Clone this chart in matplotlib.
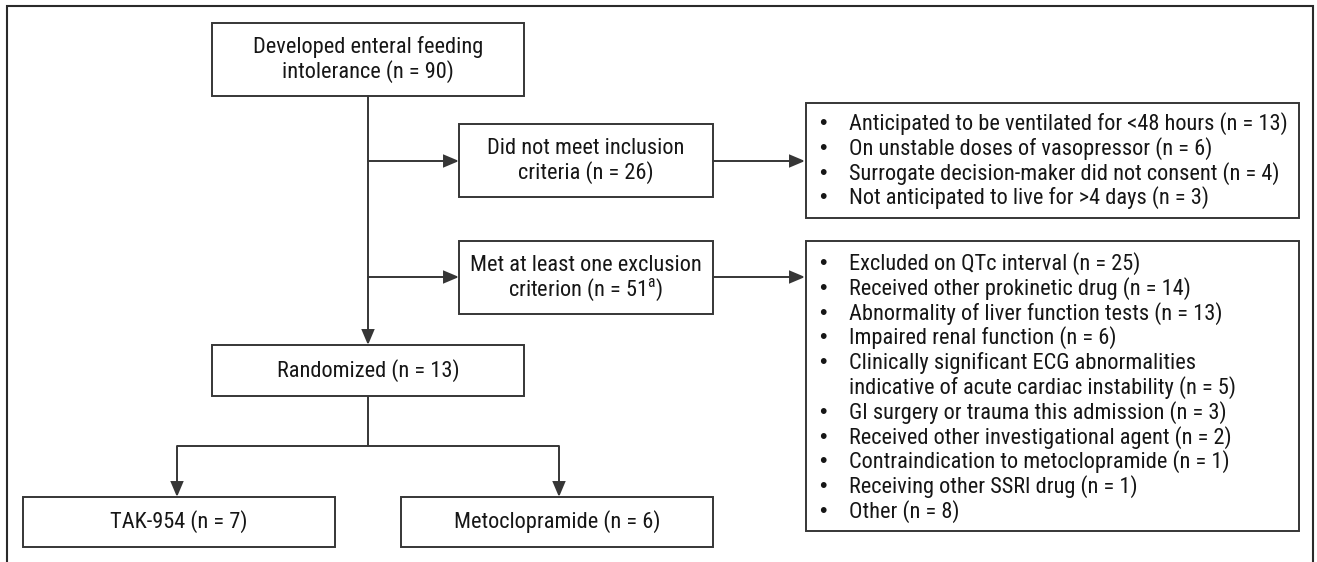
import matplotlib
matplotlib.use("Agg")
import matplotlib.pyplot as plt
from matplotlib.patches import Rectangle, FancyArrowPatch

FONT = ['Roboto Condensed', 'Archivo Narrow', 'Liberation Sans', 'DejaVu Sans']
plt.rcParams['font.family'] = FONT
plt.rcParams['mathtext.fontset'] = 'custom'
plt.rcParams['mathtext.rm'] = 'Roboto Condensed'

# ---- data ----
screened_n = 90
not_included_n = 26
excluded_n = 51
randomized_n = 13
arm_names = ["TAK-954", "Metoclopramide"]
arm_n = [7, 6]

inclusion_reasons = [
    "Anticipated to be ventilated for <48 hours",
    "On unstable doses of vasopressor",
    "Surrogate decision-maker did not consent",
    "Not anticipated to live for >4 days",
]
inclusion_counts = [13, 6, 4, 3]

exclusion_reasons = [
    "Excluded on QTc interval",
    "Received other prokinetic drug",
    "Abnormality of liver function tests",
    "Impaired renal function",
    "Clinically significant ECG abnormalities\nindicative of acute cardiac instability",
    "GI surgery or trauma this admission",
    "Received other investigational agent",
    "Contraindication to metoclopramide",
    "Receiving other SSRI drug",
    "Other",
]
exclusion_counts = [25, 14, 13, 6, 5, 3, 2, 1, 1, 8]

# ---- layout ----
W, H = 1317, 562
fig = plt.figure(figsize=(W / 100, H / 100), dpi=100)
ax = fig.add_axes([0, 0, 1, 1])
ax.set_xlim(0, W)
ax.set_ylim(H, 0)
ax.axis('off')

LC = '#363636'
TC = '#161616'
FS = 16.1
LW = 1.4
LINE = 24.8

# outer frame (open at bottom)
ax.plot([7, 7, 1313, 1313], [H, 6, 6, H], color='#2a2a2a', lw=1.5, solid_joinstyle='miter')


def box(x0, y0, x1, y1):
    ax.add_patch(Rectangle((x0, y0), x1 - x0, y1 - y0, fill=False, ec=LC, lw=LW))


def ctext(cx, cy, lines):
    n = len(lines)
    for i, s in enumerate(lines):
        y = cy + (i - (n - 1) / 2) * LINE
        ax.text(cx, y, s, ha='center', va='center', fontsize=FS, color=TC)


def arrow(x0, y0, x1, y1):
    ax.add_patch(FancyArrowPatch((x0, y0), (x1, y1),
                                 arrowstyle='-|>,head_length=9,head_width=3.8',
                                 mutation_scale=1, shrinkA=0, shrinkB=0,
                                 color=LC, lw=LW, joinstyle='miter'))


def line(xs, ys):
    ax.plot(xs, ys, color=LC, lw=LW, solid_capstyle='butt')


# main boxes
box(212, 23, 524, 96)
ctext(368, 59.5, ["Developed enteral feeding", f"intolerance (n = {screened_n})"])

box(459, 124, 713, 197)
ctext(586, 160.5, ["Did not meet inclusion", f"criteria (n = {not_included_n})"])

box(459, 241, 713, 314)
ctext(586, 277.5, ["Met at least one exclusion",
                   f"criterion (n = {excluded_n}$^{{\\mathrm{{a}}}}$)"])

box(212, 345, 524, 396)
ctext(368, 370.5, [f"Randomized (n = {randomized_n})"])

box(23, 497, 335, 547)
ctext(179, 522, [f"{arm_names[0]} (n = {arm_n[0]})"])

box(401, 497, 713, 547)
ctext(557, 522, [f"{arm_names[1]} (n = {arm_n[1]})"])

# connectors
arrow(368, 96, 368, 345)
arrow(368, 161, 459, 161)
arrow(368, 277, 459, 277)
arrow(713, 161, 805, 161)
arrow(713, 277, 805, 277)
line([368, 368], [396, 446])
line([177, 559], [446, 446])
arrow(177, 446, 177, 497)
arrow(559, 446, 559, 497)


def bullet_box(x0, y0, x1, y1, first_y, reasons, counts):
    box(x0, y0, x1, y1)
    y = first_y
    for r, c in zip(reasons, counts):
        parts = r.split("\n")
        parts[-1] = parts[-1] + f" (n = {c})"
        ax.text(x0 + 13, y, "\u2022", ha='left', va='center', fontsize=FS - 1, color=TC,
                family=['Liberation Sans', 'DejaVu Sans'])
        for p in parts:
            ax.text(x0 + 43, y, p, ha='left', va='center', fontsize=FS, color=TC)
            y += LINE


bullet_box(806, 103, 1299, 218, 123.5, inclusion_reasons, inclusion_counts)
bullet_box(806, 241, 1299, 531, 263.5, exclusion_reasons, exclusion_counts)

fig.savefig("out.png", dpi=100)
